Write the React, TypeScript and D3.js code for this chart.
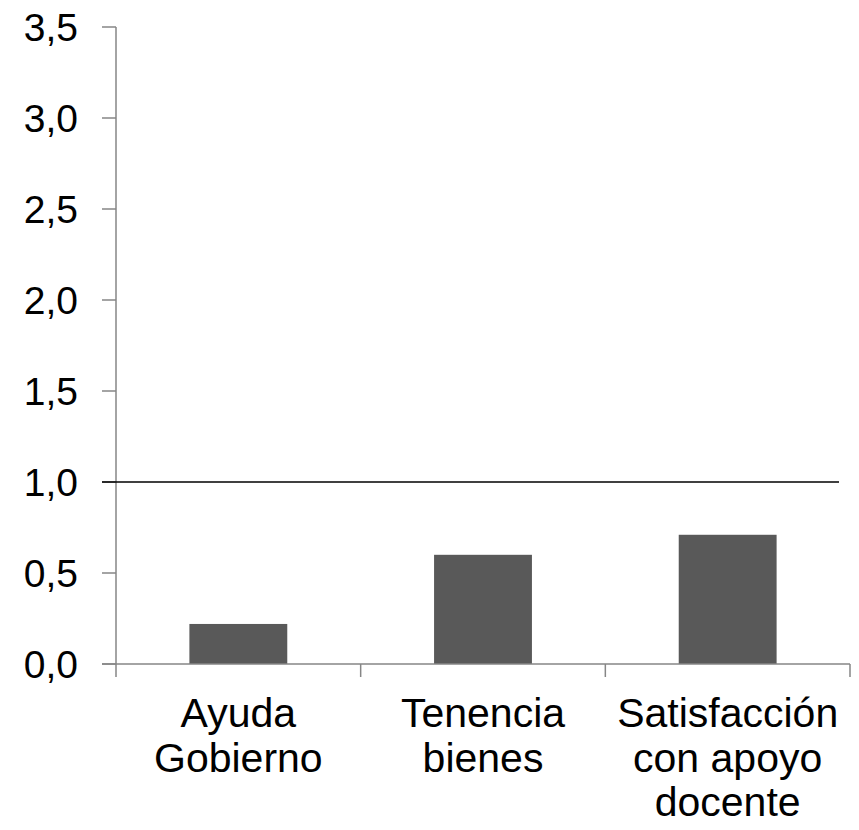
import React from "react";
import * as d3 from "d3";

const categories: string[][] = [
  ["Ayuda", "Gobierno"],
  ["Tenencia", "bienes"],
  ["Satisfacción", "con apoyo", "docente"],
];
const values: number[] = [0.22, 0.6, 0.71];
const yTicks: number[] = [0, 0.5, 1, 1.5, 2, 2.5, 3, 3.5];
const refValue = 1.0;

export default function App() {
  const W = 859;
  const H = 830;
  const x0 = 116;
  const x1 = 850;
  const yTop = 27;
  const yBottom = 664;

  const x = d3
    .scaleBand<number>()
    .domain(categories.map((_, i) => i))
    .range([x0, x1])
    .paddingInner(0.6)
    .paddingOuter(0.3);
  const y = d3.scaleLinear().domain([0, 3.5]).range([yBottom, yTop]);
  const step = x.step();
  const fmt = (v: number) => d3.format(".1f")(v).replace(".", ",");
  const axisColor = "#868686";
  const font = "'Liberation Sans', Arial, sans-serif";

  return (
    <svg
      width={W}
      height={H}
      style={{ position: "absolute", left: 0, top: 0, background: "#fff" }}
    >
      {/* bars */}
      {values.map((v, i) => (
        <rect
          key={i}
          x={x(i)!}
          y={y(v)}
          width={x.bandwidth()}
          height={y(0) - y(v)}
          fill="#595959"
        />
      ))}
      {/* y axis */}
      <line x1={x0} x2={x0} y1={y(3.5)} y2={yBottom + 13} stroke={axisColor} strokeWidth={1.5} />
      {yTicks.map((t) => (
        <g key={t}>
          <line x1={x0 - 14} x2={x0} y1={y(t)} y2={y(t)} stroke={axisColor} strokeWidth={1.5} />
          <text
            x={x0 - 38}
            y={y(t)}
            dy="0.36em"
            textAnchor="end"
            fontFamily={font}
            fontSize={39}
            fill="#000"
          >
            {fmt(t)}
          </text>
        </g>
      ))}
      {/* x axis */}
      <line x1={x0 - 14} x2={x1} y1={yBottom} y2={yBottom} stroke={axisColor} strokeWidth={1.5} />
      {categories.map((_, i) => (
        <line
          key={i}
          x1={x0 + step * (i + 1)}
          x2={x0 + step * (i + 1)}
          y1={yBottom}
          y2={yBottom + 13}
          stroke={axisColor}
          strokeWidth={1.5}
        />
      ))}
      {/* reference line */}
      <line x1={x0 - 14} x2={839} y1={y(refValue)} y2={y(refValue)} stroke="#000" strokeWidth={1.5} />
      {/* category labels */}
      {categories.map((lines, i) => (
        <text
          key={i}
          x={x(i)! + x.bandwidth() / 2}
          y={727}
          textAnchor="middle"
          fontFamily={font}
          fontSize={41}
          fill="#000"
        >
          {lines.map((l, j) => (
            <tspan key={j} x={x(i)! + x.bandwidth() / 2} dy={j === 0 ? 0 : 44.5}>
              {l}
            </tspan>
          ))}
        </text>
      ))}
    </svg>
  );
}
